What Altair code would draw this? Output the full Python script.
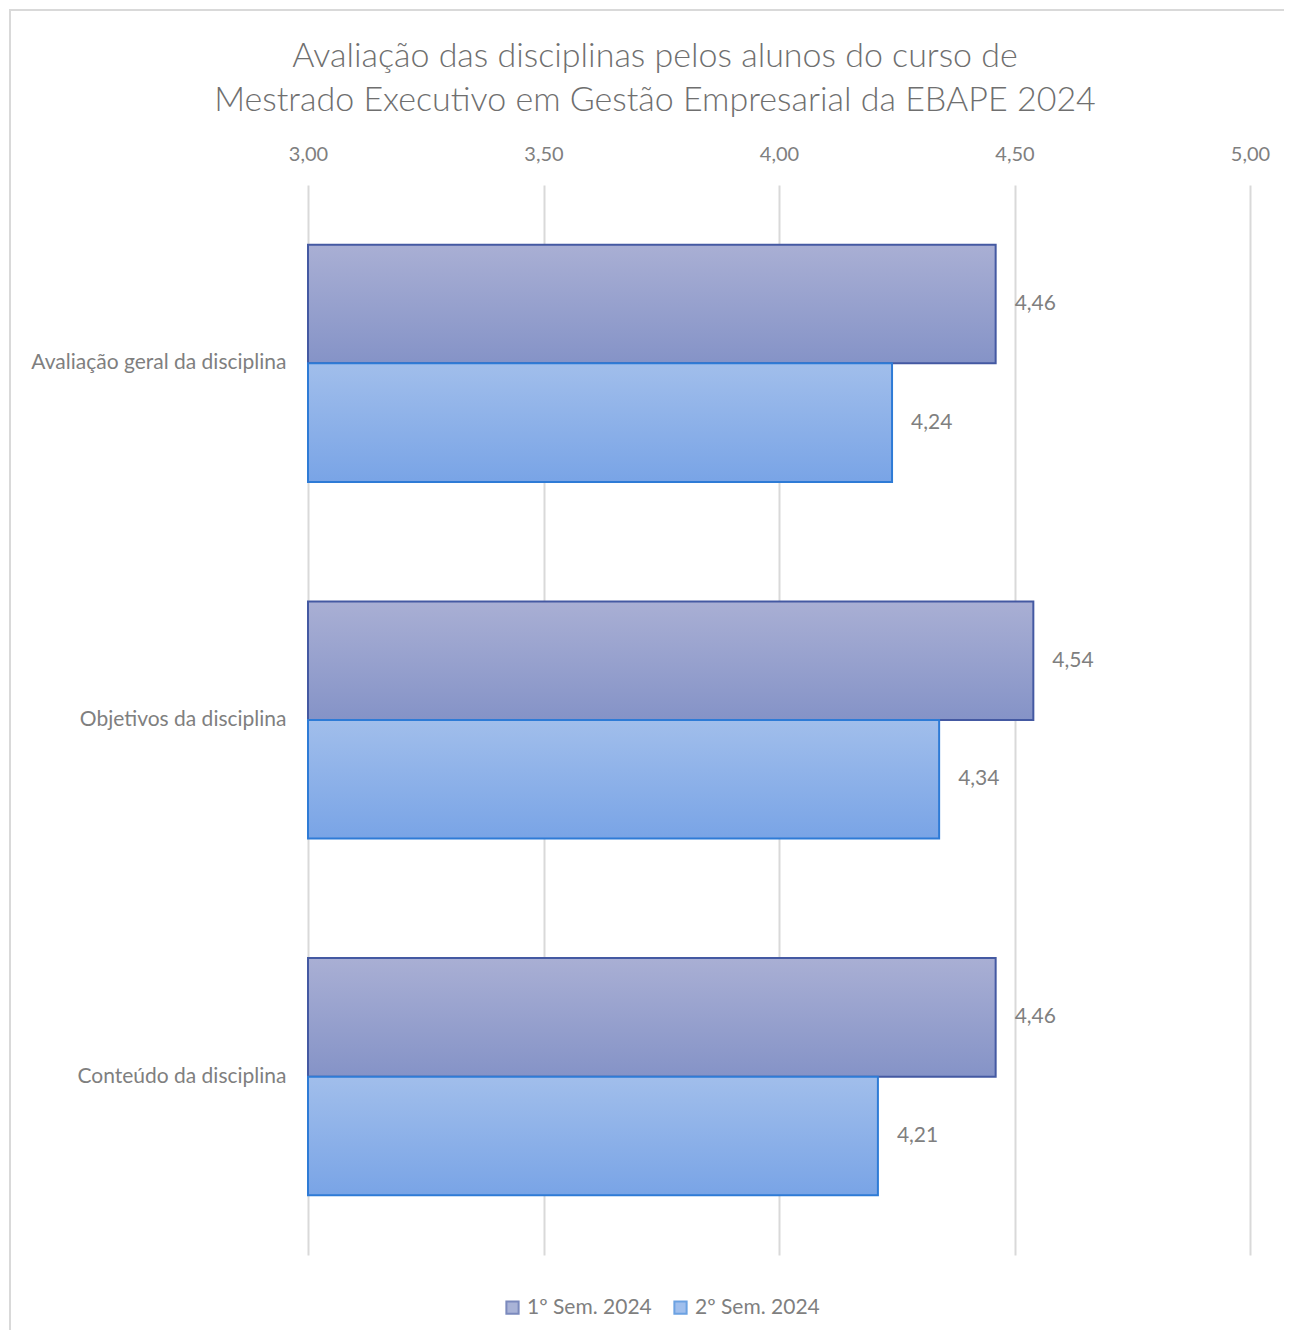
import altair as alt
import pandas as pd

categories = ["Avaliação geral da disciplina", "Objetivos da disciplina", "Conteúdo da disciplina"]
series = ["1º Sem. 2024", "2º Sem. 2024"]
values_s1 = [4.46, 4.54, 4.46]
values_s2 = [4.24, 4.34, 4.21]
ticks = [3.0, 3.5, 4.0, 4.5, 5.0]

rows = []
for c, v in zip(categories, values_s1):
    rows.append({"category": c, "series": series[0], "value": v})
for c, v in zip(categories, values_s2):
    rows.append({"category": c, "series": series[1], "value": v})
df = pd.DataFrame(rows)

FONT = "Lato"
TXT = "#7F7F7F"

fill1 = ["#A9AFD4", "#8593C7"]
fill2 = ["#A1BEEB", "#79A4E6"]
stroke1 = "#4459A2"
stroke2 = "#2E7BD6"


def grad(c):
    return alt.Gradient(
        gradient="linear",
        stops=[alt.GradientStop(color=c[0], offset=0), alt.GradientStop(color=c[1], offset=1)],
        x1=0, x2=0, y1=0, y2=1,
    )


y_enc = alt.Y(
    "category:N",
    sort=categories,
    scale=alt.Scale(paddingInner=0.335, paddingOuter=0.1675),
    axis=alt.Axis(title=None, labelFontSize=21, labelColor=TXT, labelFont=FONT, labelLimit=0,
                  labelPadding=22, domain=False, ticks=False, grid=False),
)
yoff_enc = alt.YOffset("series:N", sort=series, scale=alt.Scale(domain=series, paddingInner=0, paddingOuter=0))
x_enc = alt.X(
    "value:Q",
    scale=alt.Scale(domain=[3, 5], zero=False, nice=False),
    axis=alt.Axis(orient="top", title=None, values=ticks, labelFlush=False,
                  labelExpr="replace(format(datum.value, '.2f'), '.', ',')",
                  labelFontSize=20, labelColor=TXT, labelFont=FONT, labelPadding=21,
                  domain=False, ticks=False, grid=True, gridColor="#D9D9D9", gridWidth=2),
)

base = alt.Chart(df).transform_calculate(
    label="replace(format(datum.value, '.2f'), '.', ',')"
)

bars1 = base.transform_filter(alt.datum.series == series[0]).mark_bar(
    color=grad(fill1), stroke=stroke1, strokeWidth=2
).encode(y=y_enc, yOffset=yoff_enc, x=x_enc, x2=alt.datum(3))

bars2 = base.transform_filter(alt.datum.series == series[1]).mark_bar(
    color=grad(fill2), stroke=stroke2, strokeWidth=2
).encode(y=y_enc, yOffset=yoff_enc, x=x_enc, x2=alt.datum(3))

labels = base.mark_text(align="left", baseline="middle", dx=19, fontSize=21, font=FONT, color=TXT).encode(
    y=y_enc, yOffset=yoff_enc, x=x_enc, text="label:N"
)

leg = alt.Legend(title=None, orient="none", legendX=194, legendY=1112,
                 direction="horizontal", labelFontSize=21, labelFont=FONT,
                 labelColor=TXT, symbolSize=150, symbolType="square",
                 symbolStrokeWidth=2, columnPadding=18, labelOffset=4)

legend_layer = base.transform_filter("false").mark_square(filled=True, strokeWidth=2).encode(
    fill=alt.Fill("series:N", scale=alt.Scale(domain=series, range=[fill1[1], fill2[1]]), legend=leg),
    stroke=alt.Stroke("series:N", scale=alt.Scale(domain=series, range=[stroke1, stroke2]), legend=leg),
)

title_df = pd.DataFrame({"t": ["Avaliação das disciplinas pelos alunos do curso de\nMestrado Executivo em Gestão Empresarial da EBAPE 2024"]})
title = alt.Chart(title_df).mark_text(
    lineBreak="\n", lineHeight=44, fontSize=34, font=FONT, fontWeight=300, color="#6F6F6F",
    align="center", baseline="middle", clip=False
).encode(text="t:N", x=alt.value(347), y=alt.value(-128))

border = alt.Chart(pd.DataFrame({"a": [0]})).mark_rect(
    fill=None, stroke="#D9D9D9", strokeWidth=2, clip=False
).encode(x=alt.value(-298), x2=alt.value(1010), y=alt.value(-175), y2=alt.value(1180))

chart = alt.layer(border, bars1, bars2, labels, legend_layer, title).properties(
    width=942,
    height=1070,
    autosize=alt.AutoSizeParams(type="none"),
    padding={"left": 300, "top": 177, "right": 34, "bottom": 75},
).configure_view(stroke=None)

chart.save("out.html", embed_options={"renderer": "svg", "actions": False})
